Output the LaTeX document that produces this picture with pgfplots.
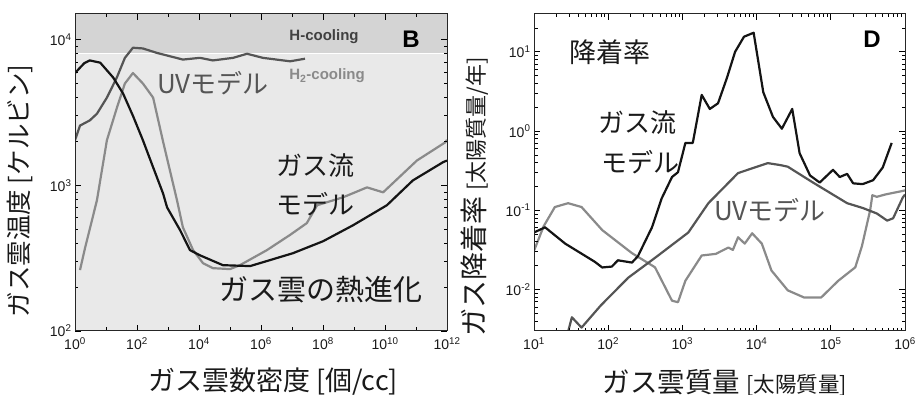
\documentclass[border=0pt]{standalone}
\usepackage{fontspec}
\setmainfont{Liberation Sans}
\newfontfamily\jp{Noto Sans CJK JP}
\usepackage{pgfplots}
\pgfplotsset{compat=1.18}
\definecolor{bgl}{HTML}{E9E9E9}
\definecolor{bgd}{HTML}{D4D4D4}
\definecolor{uvc}{HTML}{555555}
\definecolor{lgc}{HTML}{8A8A8A}
\definecolor{txt}{HTML}{1A1A1A}
\tikzset{
  blk/.style={line width=2.2pt, color=black!92, line join=round},
  uvl/.style={line width=2.2pt, color=uvc, line join=round},
  lgl/.style={line width=2.2pt, color=lgc, line join=round},
}
\begin{document}
\begin{tikzpicture}[x=1pt,y=1pt]
\useasboundingbox (0,0) rectangle (917,395);
% ---------------- Panel B ----------------
\begin{axis}[scale only axis, anchor=south west, xmode=log, ymode=log,
  tick align=inside, major tick length=6pt, minor tick length=3.5pt,
  tick style={black, line width=0.8pt},
  axis line style={line width=1pt, black!85},
  ticklabel style={font=\fontsize{14}{14}\selectfont, text=txt},
  xticklabel style={yshift=-3pt},
  axis on top, xtick pos=both, ytick pos=both,
  at={(75pt,64pt)}, width=372pt, height=317pt,
  xmin=1, xmax=1e12, ymin=100, ymax=15000,
  axis background/.style={fill=bgl},
  xtick={1,1e2,1e4,1e6,1e8,1e10,1e12},
  xticklabels={10\textsuperscript{0},10\textsuperscript{2},10\textsuperscript{4},10\textsuperscript{6},10\textsuperscript{8},10\textsuperscript{10},10\textsuperscript{12}},
  minor xtick={10,1e3,1e5,1e7,1e9,1e11},
  ytick={100,1000,10000},
  yticklabels={10\textsuperscript{2},10\textsuperscript{3},10\textsuperscript{4}},
  minor ytick={200,300,400,500,600,700,800,900,2000,3000,4000,5000,6000,7000,8000,9000},
]
\fill[bgd] (axis cs:1,8000) rectangle (axis cs:1e12,15000);
\draw[white, line width=1.2pt] (axis cs:1,8000) -- (axis cs:1e12,8000);
% H2-cooling (light gray)
\addplot[lgl] coordinates {
(1.45,262) (2.1,370) (5.1,790) (10.7,2040) (22.4,3400) (40.7,5000) (74,5900)
(155,5000) (331,4000) (692,2000) (1950,790) (3020,515) (6457,359) (13490,292)
(28184,270) (1e5,266) (208930,283) (1.55e6,359) (8.7e6,457) (3.0e7,550)
(6.46e7,730) (4.47e8,828) (2.63e9,968) (8.7e9,895) (1.07e11,1480) (8.7e11,1970) (1e12,2050)
};
% UV model (dark gray)
\addplot[uvl] coordinates {
(1,2040) (1.45,2570) (3,2790) (5.1,3100) (10.7,4000) (22.4,5500) (40.7,7500)
(74,8800) (155,8700) (447,8100) (3020,7300) (10715,7500) (28184,7200)
(125893,7500) (354813,8000) (1.15e6,7500) (8.7e6,7100) (2.63e7,7400)
};
% gas-flow model (black)
\addplot[blk] coordinates {
(1,5900) (2,6900) (3,7200) (6.5,6950) (17,5500) (35.5,4270) (74,3000)
(155,2040) (331,1330) (692,880) (933,706) (2455,492) (5129,359) (10715,331)
(58884,283) (446684,279) (1.07e7,342) (1e8,413) (9.33e8,532) (1.15e10,730)
(7.9e10,1080) (7.4e11,1440) (1e12,1480)
};
\end{axis}
% ---------------- Panel D ----------------
\begin{axis}[scale only axis, anchor=south west, xmode=log, ymode=log,
  tick align=inside, major tick length=6pt, minor tick length=3.5pt,
  tick style={black, line width=0.8pt},
  axis line style={line width=1pt, black!85},
  ticklabel style={font=\fontsize{14}{14}\selectfont, text=txt},
  xticklabel style={yshift=-3pt},
  axis on top, xtick pos=both, ytick pos=both,
  at={(534pt,64pt)}, width=371pt, height=317pt,
  xmin=10, xmax=1e6, ymin=3e-3, ymax=30,
  xtick={10,1e2,1e3,1e4,1e5,1e6},
  xticklabels={10\textsuperscript{1},10\textsuperscript{2},10\textsuperscript{3},10\textsuperscript{4},10\textsuperscript{5},10\textsuperscript{6}},
  minor xtick={20,30,40,50,60,70,80,90,200,300,400,500,600,700,800,900,2000,3000,4000,5000,6000,7000,8000,9000,2e4,3e4,4e4,5e4,6e4,7e4,8e4,9e4,2e5,3e5,4e5,5e5,6e5,7e5,8e5,9e5},
  ytick={0.01,0.1,1,10},
  yticklabels={10\textsuperscript{-2},10\textsuperscript{-1},10\textsuperscript{0},10\textsuperscript{1}},
  minor ytick={0.004,0.005,0.006,0.007,0.008,0.009,0.02,0.03,0.04,0.05,0.06,0.07,0.08,0.09,0.2,0.3,0.4,0.5,0.6,0.7,0.8,0.9,2,3,4,5,6,7,8,9,20},
]
% light gray
\addplot[lgl] coordinates {
(10,0.0309) (13.5,0.063) (19.1,0.11) (28.8,0.123) (43.7,0.11) (83.2,0.0562)
(209,0.0288) (427,0.0191) (724,0.00724) (871,0.00692) (1096,0.0129) (1820,0.0269)
(2818,0.0282) (4169,0.0339) (4786,0.0316) (5623,0.0457) (6918,0.038) (8710,0.0513)
(11749,0.038) (15849,0.0174) (26303,0.00977) (43652,0.00794) (74131,0.00794)
(125893,0.0129) (213796,0.0191) (263027,0.0355) (338844,0.1) (363078,0.155)
(416869,0.148) (537032,0.158) (691831,0.166) (1e6,0.178)
};
% UV model
\addplot[uvl] coordinates {
(27.5,0.0025) (32.4,0.00447) (43.7,0.00331) (79.4,0.0063) (186,0.0141) (427,0.0251)
(1202,0.0525) (2239,0.123) (5623,0.295) (14125,0.394) (20893,0.372) (26303,0.355)
(57544,0.224) (97724,0.166) (165959,0.123) (269153,0.107) (416869,0.0912)
(575440,0.0741) (691831,0.0794) (933254,0.145) (1e6,0.158)
};
% gas-flow model
\addplot[blk] coordinates {
(10,0.0525) (14.1,0.061) (26.3,0.038) (66,0.0224) (83,0.019) (112,0.0195)
(135,0.0234) (209,0.0219) (251,0.0263) (389,0.061) (525,0.141) (724,0.263)
(871,0.302) (1096,0.708) (1380,0.708) (1820,2.86) (2340,1.9) (3020,2.24)
(3980,4.68) (5130,10) (6760,15.5) (9120,17.4) (12300,3.09) (16600,1.51)
(21900,1.07) (30200,1.9) (38000,0.525) (52500,0.275) (70800,0.224) (107000,0.324)
(132000,0.263) (166000,0.288) (200000,0.219) (269000,0.214) (372000,0.24)
(501000,0.347) (661000,0.708)
};
\end{axis}
% ---------------- texts ----------------
\node[text=black!75, font=\bfseries\fontsize{15}{15}\selectfont] at (324,358) {H-cooling};
\node[font=\bfseries\fontsize{24}{24}\selectfont] at (411,356) {B};
\node[text=lgc, font=\bfseries\fontsize{15}{15}\selectfont] at (327,319) {H\textsubscript{2}-cooling};
\node[text=uvc, font=\jp\fontsize{26}{26}\selectfont] at (213,312) {UVモデル};
\node[text=txt, font=\jp\fontsize{26}{26}\selectfont] at (315,229) {ガス流};
\node[text=txt, font=\jp\fontsize{26}{26}\selectfont] at (315,191) {モデル};
\node[text=txt, font=\jp\fontsize{29}{29}\selectfont] at (321,105) {ガス雲の熱進化};
\node[text=txt, rotate=90, font=\jp\fontsize{25.5}{25.5}\selectfont] at (20,204) {ガス雲温度 [ケルビン]};
\node[text=txt, font=\jp\fontsize{27}{27}\selectfont] at (273,13) {ガス雲数密度 [個/cc]};
\node[text=txt, font=\jp\fontsize{27}{27}\selectfont] at (610,343) {降着率};
\node[font=\bfseries\fontsize{24}{24}\selectfont] at (872,356) {D};
\node[text=txt, font=\jp\fontsize{26}{26}\selectfont] at (637,272) {ガス流};
\node[text=txt, font=\jp\fontsize{26}{26}\selectfont] at (640,233) {モデル};
\node[text=uvc, font=\jp\fontsize{26}{26}\selectfont] at (770,185) {UVモデル};
\node[text=txt, rotate=90, font=\jp\fontsize{28}{28}\selectfont] at (475,198) {ガス降着率 {\fontsize{22}{22}\selectfont[太陽質量/年]}};
\node[text=txt, font=\jp\fontsize{27.5}{27.5}\selectfont] at (725,12) {ガス雲質量 {\fontsize{21.5}{21.5}\selectfont[太陽質量]}};
\end{tikzpicture}
\end{document}
